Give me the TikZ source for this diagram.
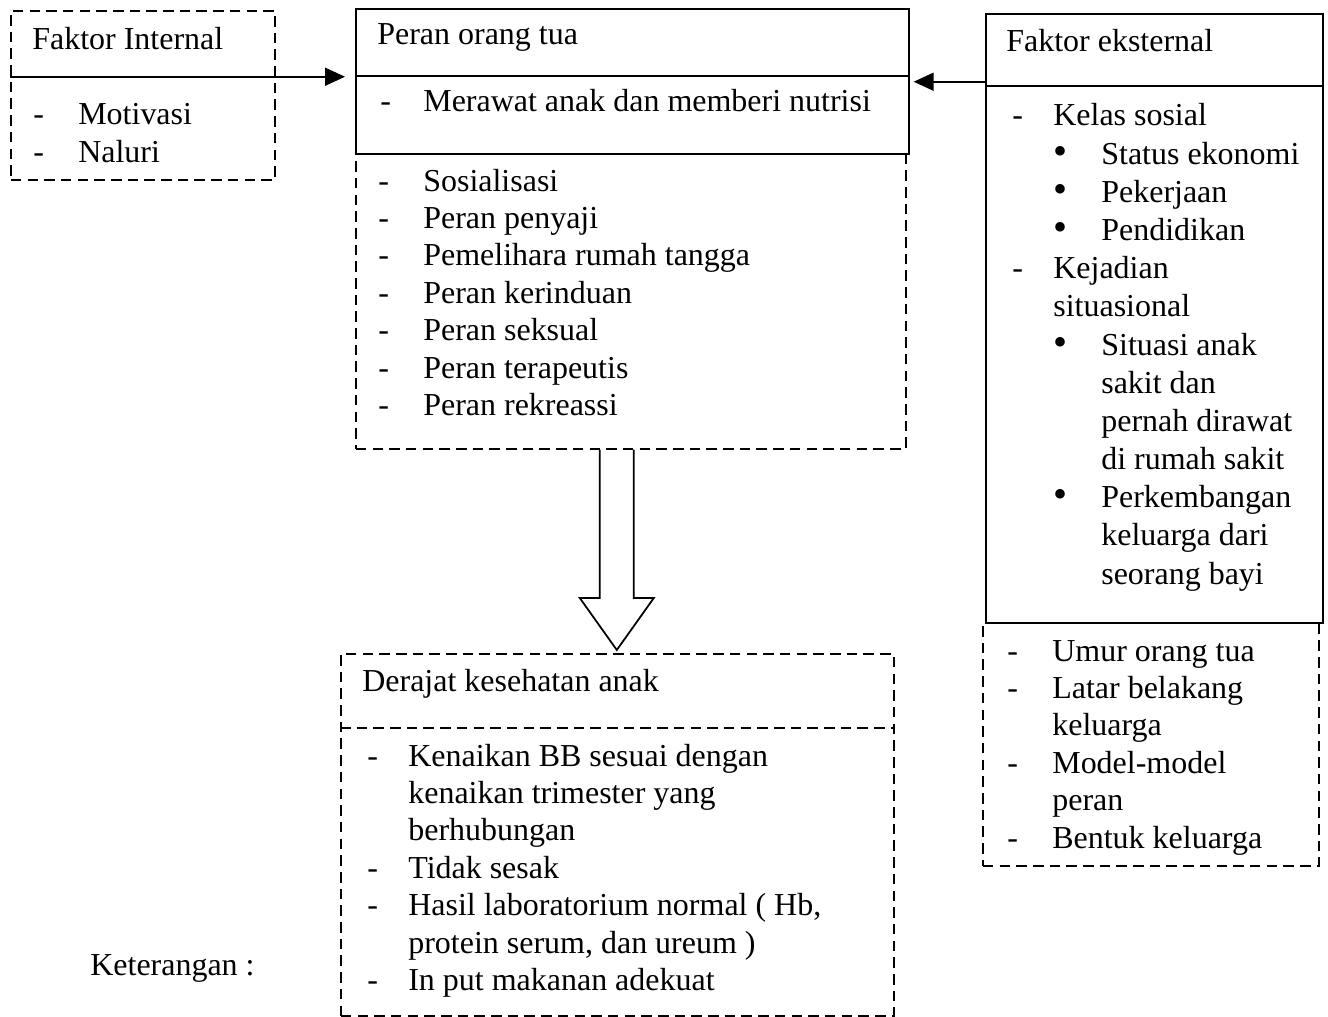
\documentclass[tikz,border=0pt]{standalone}
\usepackage{fontspec}
\setmainfont{Liberation Serif}
\usetikzlibrary{arrows.meta}

\newcommand{\bigdot}{\scalebox{1.25}{\textbullet}}

\begin{document}
\begin{tikzpicture}[x=0.02cm, y=-0.02cm,
  every node/.style={font=\fontsize{18.2}{21.3}\selectfont},
  solidbox/.style={draw, line width=1pt, inner sep=0pt, anchor=north west},
  dashbox/.style={solidbox, dash pattern=on 6pt off 3.5pt},
  dashline/.style={line width=1pt, dash pattern=on 6pt off 3.5pt},
  txt/.style={anchor=base west, inner sep=0pt},
  arr/.style={-{Triangle[length=0.4cm, width=0.36cm]}, line width=1pt},
  hollow/.style={line width=1pt, line join=miter}
]
\useasboundingbox (0,0) rectangle (1328,1017);

% Faktor internal
\node[dashbox, minimum width=5.28cm, minimum height=3.38cm] (intBox) at (10,10) {};
\node[txt] (intTitle) at (32,50) {Faktor Internal};
\node[txt] (intList) at (33,125) {\begin{tabular}[t]{@{}p{0.9cm}@{}l@{}}
  - & Motivasi\\
  - & Naluri
\end{tabular}};

% Peran orang tua
\node[solidbox, minimum width=11.06cm, minimum height=1.34cm] (peranHead) at (355,8) {};
\node[solidbox, minimum width=11.06cm, minimum height=1.56cm] (peranMid) at (355,75) {};
\node[dashbox, minimum width=11cm, minimum height=5.9cm] (peranList) at (355,153) {};
\node[txt] (peranTitle) at (377,45) {Peran orang tua};
\node[txt] (peranCare) at (380,112) {\begin{tabular}[t]{@{}p{0.86cm}@{}l@{}}
  - & Merawat anak dan memberi nutrisi
\end{tabular}};
\node[txt] (peranRoles) at (378,191) {\begin{tabular}[t]{@{}p{0.9cm}@{}l@{}}
  - & Sosialisasi\\
  - & Peran penyaji\\
  - & Pemelihara rumah tangga\\
  - & Peran kerinduan\\
  - & Peran seksual\\
  - & Peran terapeutis\\
  - & Peran rekreassi
\end{tabular}};

% Faktor eksternal
\node[solidbox, minimum width=6.74cm, minimum height=1.44cm] (extHead) at (985,13) {};
\node[solidbox, minimum width=6.74cm, minimum height=10.74cm] (extBody) at (985,85) {};
\node[dashbox, minimum width=6.72cm, minimum height=4.86cm] (extList) at (982,622) {};
\node[txt] (extTitle) at (1006,52) {Faktor eksternal};
\node[txt] (extSocial) at (1012,126) {\renewcommand{\arraystretch}{1.02}%
\begin{tabular}[t]{@{}p{0.82cm}@{}p{0.96cm}@{}l@{}}
  - & \multicolumn{2}{@{}l@{}}{Kelas sosial}\\
    & \bigdot & Status ekonomi\\
    & \bigdot & Pekerjaan\\
    & \bigdot & Pendidikan\\
  - & \multicolumn{2}{@{}l@{}}{Kejadian}\\
    & \multicolumn{2}{@{}l@{}}{situasional}\\
    & \bigdot & Situasi anak\\
    &         & sakit dan\\
    &         & pernah dirawat\\
    &         & di rumah sakit\\
    & \bigdot & Perkembangan\\
    &         & keluarga dari\\
    &         & seorang bayi
\end{tabular}};
\node[txt] (extOther) at (1007,661) {\begin{tabular}[t]{@{}p{0.9cm}@{}l@{}}
  - & Umur orang tua\\
  - & Latar belakang\\
    & keluarga\\
  - & Model-model\\
    & peran\\
  - & Bentuk keluarga
\end{tabular}};

% Derajat kesehatan anak
\node[dashbox, minimum width=11.06cm, minimum height=7.24cm] (derBox) at (340,653) {};
\node[anchor=north west, inner sep=0pt, minimum width=11.06cm, minimum height=1.48cm] (derHead) at (340,653) {};
\draw[dashline] (derHead.south west) -- (derHead.south east);
\node[txt] (derTitle) at (362,691) {Derajat kesehatan anak};
\node[txt] (derList) at (367,766) {\begin{tabular}[t]{@{}p{0.82cm}@{}l@{}}
  - & Kenaikan BB sesuai dengan\\
    & kenaikan trimester yang\\
    & berhubungan\\
  - & Tidak sesak\\
  - & Hasil laboratorium normal ( Hb,\\
    & protein serum, dan ureum )\\
  - & In put makanan adekuat
\end{tabular}};

\node[txt] (note) at (90,975) {Keterangan :};

% connectors
\draw[arr, shorten >=0.2cm] (intBox.west |- peranHead.south) -- (peranHead.south west);
\coordinate (extArr) at ([yshift=0.1cm]extHead.south west);
\draw[arr, shorten >=0.08cm] (extArr) -- (extArr -| peranHead.east);

\coordinate (downTop) at (peranList.south -| derHead.north);
\draw[hollow] ([xshift=-0.34cm]downTop) -- ([xshift=-0.34cm, yshift=1.1cm]derHead.north)
  -- ([xshift=-0.74cm, yshift=1.1cm]derHead.north) -- ([yshift=0.06cm]derHead.north)
  -- ([xshift=0.74cm, yshift=1.1cm]derHead.north) -- ([xshift=0.34cm, yshift=1.1cm]derHead.north)
  -- ([xshift=0.34cm]downTop);

\end{tikzpicture}
\end{document}
